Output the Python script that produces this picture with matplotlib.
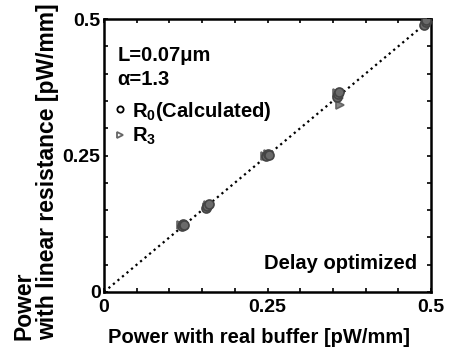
import matplotlib.pyplot as plt
from matplotlib.ticker import MultipleLocator

plt.rcParams['font.family'] = ['Liberation Sans', 'DejaVu Sans']
plt.rcParams['font.weight'] = 'bold'
plt.rcParams['mathtext.fontset'] = 'custom'
plt.rcParams['mathtext.rm'] = 'Liberation Sans:bold'
plt.rcParams['mathtext.bf'] = 'Liberation Sans:bold'
plt.rcParams['mathtext.default'] = 'bf'

# R0 (calculated) points, grouped in clusters
r0_x = [0.119, 0.121, 0.123, 0.156, 0.158, 0.160, 0.247, 0.250, 0.252, 0.356, 0.358, 0.360, 0.490, 0.492, 0.493]
r0_y = [0.121, 0.124, 0.123, 0.153, 0.158, 0.162, 0.249, 0.252, 0.251, 0.358, 0.363, 0.366, 0.489, 0.494, 0.498]

# R3 points
r3_x = [0.118, 0.122, 0.157, 0.159, 0.246, 0.251, 0.357, 0.359, 0.361, 0.491, 0.493]
r3_y = [0.122, 0.120, 0.156, 0.160, 0.250, 0.253, 0.364, 0.355, 0.342, 0.491, 0.496]

diag = [0, 0.5]
ticks = [0, 0.25, 0.5]
tick_labels = ['0', '0.25', '0.5']

fs = 14.5

fig = plt.figure(figsize=(4.49, 3.52), dpi=100)
ax = fig.add_axes([104 / 449, 60 / 352, 327 / 449, 273 / 352])

ax.plot(diag, diag, color='black', linestyle=':', linewidth=1.6, zorder=1)
ax.plot(r3_x, r3_y, linestyle='none', marker='>', markersize=6,
        markerfacecolor='#888888', markeredgecolor='#666666', markeredgewidth=1.2,
        zorder=2)
ax.plot(r0_x, r0_y, linestyle='none', marker='o', markersize=6.5,
        markerfacecolor='#6a6a6a', markeredgecolor='#444444', markeredgewidth=1.2,
        zorder=3)
# legend proxies (hollow markers as in the original key)
h0, = ax.plot([], [], linestyle='none', marker='o', markersize=4.5,
              markerfacecolor='white', markeredgecolor='black', markeredgewidth=1.3)
h3, = ax.plot([], [], linestyle='none', marker='>', markersize=4.5,
              markerfacecolor='white', markeredgecolor='#666666', markeredgewidth=1.3)

ax.set_xlim(0, 0.5)
ax.set_ylim(0, 0.5)
ax.set_xticks(ticks)
ax.set_xticklabels(tick_labels)
ax.set_yticks(ticks)
ax.set_yticklabels(tick_labels)
ax.xaxis.set_minor_locator(MultipleLocator(0.05))
ax.yaxis.set_minor_locator(MultipleLocator(0.05))
ax.tick_params(which='both', direction='in', top=True, right=True,
               length=3, width=1.2, labelsize=14, pad=5)
ax.tick_params(axis='y', pad=2.5)
for s in ax.spines.values():
    s.set_linewidth(1.8)

ax.text(0.042, 0.868, 'L=0.07\u03bcm', transform=ax.transAxes, fontsize=fs,
        fontweight='bold', va='center')
ax.text(0.042, 0.777, '\u03b1=1.3', transform=ax.transAxes, fontsize=fs,
        fontweight='bold', va='center')
ax.legend([h0, h3], ['R$_0$(Calculated)', 'R$_3$'], loc='upper left',
          bbox_to_anchor=(0.035, 0.705), frameon=False, fontsize=fs,
          handlelength=0.5, handletextpad=0.3, labelspacing=0.15,
          borderaxespad=0, borderpad=0)
ax.text(0.957, 0.106, 'Delay optimized', transform=ax.transAxes, fontsize=fs,
        fontweight='bold', ha='right', va='center')

fig.text(259 / 449, 0.04, 'Power with real buffer [pW/mm]', fontsize=fs,
         fontweight='bold', ha='center', va='center')
fig.text(36 / 449, 0.034, 'Power\nwith linear resistance [pW/mm]', rotation=90,
         fontsize=16.5, fontweight='bold', ha='center', va='bottom',
         multialignment='left', linespacing=1.0)

fig.savefig('out.png', dpi=100)
